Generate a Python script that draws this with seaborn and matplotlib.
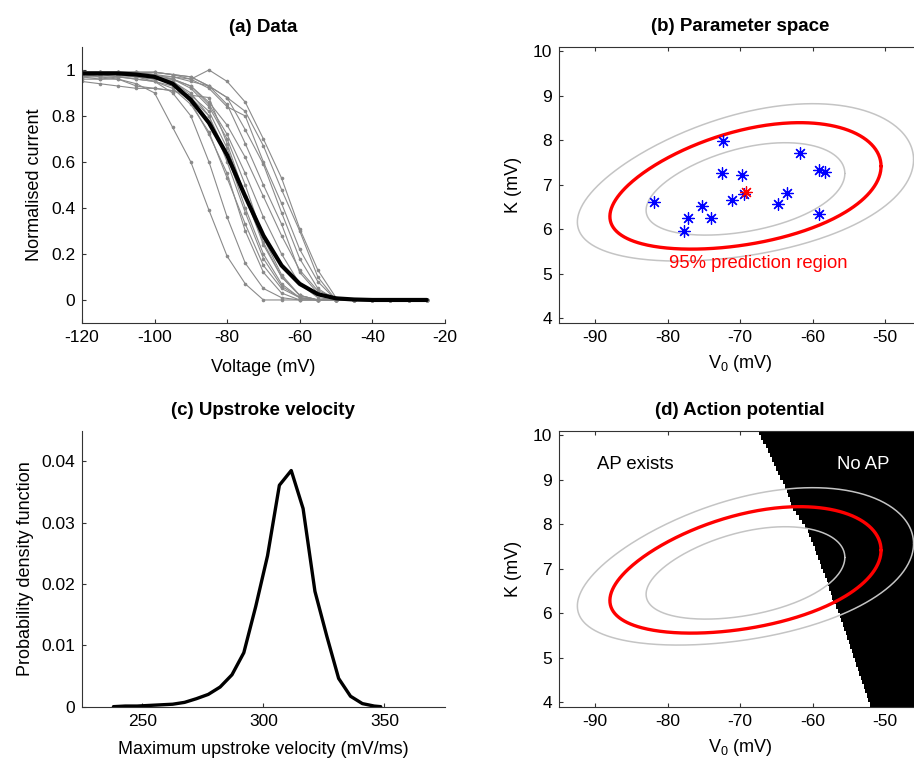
import numpy as np
import pandas as pd
import matplotlib
matplotlib.use("Agg")
import matplotlib.pyplot as plt
import seaborn as sns

# ---------------------------------------------------------------- data
# (a) normalised current recorded from each cell at the test voltages
voltages = [-120, -115, -110, -105, -100, -95, -90, -85, -80, -75,
            -70, -65, -60, -55, -50, -45, -40, -35, -30, -25]
cell_currents = [
    [0.97, 0.96, 0.96, 0.94, 0.90, 0.75, 0.60, 0.39, 0.19, 0.07, 0.00, 0, 0, 0, 0, 0, 0, 0, 0, 0],
    [0.98, 0.97, 0.97, 0.96, 0.95, 0.90, 0.80, 0.60, 0.36, 0.16, 0.05, 0.01, 0, 0, 0, 0, 0, 0, 0, 0],
    [0.96, 0.96, 0.97, 0.96, 0.95, 0.93, 0.86, 0.72, 0.55, 0.30, 0.12, 0.03, 0, 0, 0, 0, 0, 0, 0, 0],
    [0.99, 0.99, 0.98, 0.97, 0.95, 0.92, 0.85, 0.73, 0.53, 0.33, 0.15, 0.05, 0.01, 0, 0, 0, 0, 0, 0, 0],
    [0.97, 0.97, 0.96, 0.93, 0.92, 0.91, 0.88, 0.80, 0.60, 0.38, 0.18, 0.06, 0.01, 0, 0, 0, 0, 0, 0, 0],
    [0.99, 0.99, 0.99, 0.98, 0.97, 0.95, 0.90, 0.80, 0.63, 0.40, 0.20, 0.07, 0.01, 0, 0, 0, 0, 0, 0, 0],
    [0.98, 0.98, 0.98, 0.97, 0.96, 0.95, 0.89, 0.82, 0.66, 0.45, 0.24, 0.10, 0.02, 0, 0, 0, 0, 0, 0, 0],
    [0.99, 0.99, 0.98, 0.98, 0.97, 0.96, 0.92, 0.84, 0.70, 0.50, 0.27, 0.11, 0.02, 0, 0, 0, 0, 0, 0, 0],
    [0.95, 0.94, 0.93, 0.92, 0.92, 0.91, 0.89, 0.88, 0.68, 0.45, 0.25, 0.10, 0.02, 0, 0, 0, 0, 0, 0, 0],
    [0.98, 0.98, 0.97, 0.97, 0.96, 0.96, 0.93, 0.85, 0.72, 0.55, 0.36, 0.20, 0.07, 0.01, 0, 0, 0, 0, 0, 0],
    [0.97, 0.98, 0.99, 0.99, 0.99, 0.98, 0.96, 1.00, 0.95, 0.86, 0.70, 0.53, 0.31, 0.13, 0.01, 0, 0, 0, 0, 0],
    [0.99, 0.99, 0.99, 0.99, 0.99, 0.98, 0.97, 0.93, 0.88, 0.82, 0.67, 0.48, 0.30, 0.10, 0.00, 0, 0, 0, 0, 0],
    [0.98, 0.98, 0.98, 0.98, 0.97, 0.97, 0.96, 0.92, 0.84, 0.80, 0.60, 0.42, 0.22, 0.08, 0.00, 0, 0, 0, 0, 0],
    [0.99, 0.99, 0.99, 0.99, 0.99, 0.98, 0.97, 0.93, 0.88, 0.74, 0.59, 0.38, 0.18, 0.05, 0.00, 0, 0, 0, 0, 0],
    [0.98, 0.99, 0.99, 0.99, 0.98, 0.97, 0.95, 0.93, 0.85, 0.68, 0.50, 0.33, 0.12, 0.03, 0.00, 0, 0, 0, 0, 0],
    [0.99, 0.99, 0.99, 0.99, 0.98, 0.96, 0.93, 0.86, 0.76, 0.62, 0.45, 0.28, 0.13, 0.04, 0.01, 0, 0, 0, 0, 0],
]
mean_current = [0.985, 0.985, 0.985, 0.98, 0.97, 0.94, 0.87, 0.77, 0.63, 0.45,
                0.28, 0.15, 0.07, 0.025, 0.007, 0.002, 0.0, 0.0, 0.0, 0.0]
current_ticks = [0, 0.2, 0.4, 0.6, 0.8, 1]
current_tick_labels = ["0", "0.2", "0.4", "0.6", "0.8", "1"]
voltage_ticks = [-120, -100, -80, -60, -40, -20]

# (b) fitted Boltzmann parameters of each cell
cell_v0 = [-72.44, -61.77, -72.48, -69.77, -59.10, -58.32, -69.45, -63.60,
           -71.15, -64.85, -81.95, -75.29, -77.26, -74.05, -59.10, -77.72]
cell_k = [7.97, 7.71, 7.26, 7.21, 7.32, 7.28, 6.80, 6.82,
          6.66, 6.56, 6.60, 6.51, 6.24, 6.26, 6.34, 5.97]

# population model: V0 normal, log K normal, correlated
pop_v0_mean = -69.28
pop_v0_sd = 7.64
pop_k_median = 6.826
pop_logk_sd = 0.0844
pop_corr = 0.40
region_levels = [0.80, 0.95, 0.99]
v0_ticks = [-90, -80, -70, -60, -50]
k_ticks = [4, 5, 6, 7, 8, 9, 10]

# (c) distribution of maximum upstroke velocity
upstroke_velocity = [238.0, 242.9, 247.8, 252.7, 257.6, 262.5, 267.4, 272.3,
                     277.2, 282.1, 287.0, 291.9, 296.8, 301.7, 306.6, 311.5,
                     316.4, 321.3, 326.2, 331.1, 336.0, 340.9, 345.8, 348.5]
upstroke_pdf = [0.0000, 0.0001, 0.0001, 0.0002, 0.0003, 0.0004, 0.0007, 0.0013,
                0.0020, 0.0032, 0.0052, 0.0088, 0.0163, 0.0246, 0.0361, 0.0385,
                0.0323, 0.0188, 0.0115, 0.0046, 0.0017, 0.0005, 0.0001, 0.0000]
pdf_ticks = [0, 0.01, 0.02, 0.03, 0.04]
pdf_tick_labels = ["0", "0.01", "0.02", "0.03", "0.04"]
velocity_ticks = [250, 300, 350]

# (d) edge of the region where an action potential is produced
boundary_k = [3.90, 5.98, 6.28, 6.69, 7.85, 8.38, 8.79, 10.12]
boundary_v0 = [-52.0, -56.34, -57.26, -57.95, -60.7, -62.8, -63.7, -67.6]

# ---------------------------------------------------------------- style
sns.set_theme(style="ticks", rc={
    "axes.edgecolor": "#333333",
    "axes.linewidth": 0.8,
    "axes.labelcolor": "black",
    "text.color": "black",
    "xtick.direction": "in",
    "ytick.direction": "in",
    "xtick.major.size": 3,
    "ytick.major.size": 3,
    "xtick.major.width": 0.8,
    "ytick.major.width": 0.8,
    "xtick.color": "#333333",
    "ytick.color": "#333333",
    "xtick.labelcolor": "black",
    "ytick.labelcolor": "black",
    "xtick.labelsize": 12.5,
    "ytick.labelsize": 12.5,
    "axes.labelsize": 13,
    "axes.titlesize": 13.5,
    "axes.titleweight": "bold",
    "axes.titlepad": 11,
    "axes.unicode_minus": False,
})
plt.rcParams["font.family"] = ["Liberation Sans", "DejaVu Sans"]
plt.rcParams["mathtext.default"] = "regular"

GRAY = "#8a8a8a"
ELLIPSE_GRAY = "#c4c4c4"
RED = "#ff0000"

fig = plt.figure(figsize=(9.14, 7.61), dpi=100)
ax_a = fig.add_axes([0.0897, 0.5756, 0.397, 0.3627])
ax_b = fig.add_axes([0.6116, 0.5760, 0.3966, 0.3627])
ax_c = fig.add_axes([0.0897, 0.0714, 0.397, 0.3627])
ax_d = fig.add_axes([0.6116, 0.0714, 0.3966, 0.3627])


def prediction_curve(level, n=400):
    """Contour of the bivariate normal in (V0, log K) holding `level` mass."""
    r = np.sqrt(-2.0 * np.log(1.0 - level))
    t = np.linspace(0, 2 * np.pi, n)
    u, w = np.cos(t), np.sin(t)
    dv = r * pop_v0_sd * u
    dlogk = r * pop_logk_sd * (pop_corr * u + np.sqrt(1 - pop_corr ** 2) * w)
    return pop_v0_mean + dv, pop_k_median * np.exp(dlogk)


def draw_regions(ax):
    for level in region_levels:
        v, k = prediction_curve(level)
        if level == 0.95:
            ax.plot(v, k, color=RED, lw=2.4, zorder=4)
        else:
            ax.plot(v, k, color=ELLIPSE_GRAY, lw=1.1, zorder=3)


def param_axes(ax):
    ax.set_xlim(-95, -45)
    ax.set_ylim(3.9, 10.1)
    ax.set_xticks(v0_ticks)
    ax.set_yticks(k_ticks)
    ax.tick_params(top=True, right=True, pad=5)
    ax.set_xlabel("V$_0$ (mV)", labelpad=6)
    ax.set_ylabel("K (mV)", labelpad=8)


# ---------------------------------------------------------------- (a)
rows = [(i, v, c) for i, cur in enumerate(cell_currents)
        for v, c in zip(voltages, cur)]
df_cells = pd.DataFrame(rows, columns=["cell", "voltage", "current"])
sns.lineplot(data=df_cells, x="voltage", y="current", units="cell",
             estimator=None, color=GRAY, lw=0.8, marker="o", markersize=2.6,
             markeredgewidth=0, ax=ax_a, legend=False)
sns.lineplot(x=voltages, y=mean_current, color="black", lw=3.0, ax=ax_a)
ax_a.set_xlim(-120, -20)
ax_a.set_ylim(-0.1, 1.1)
ax_a.set_xticks(voltage_ticks)
ax_a.set_yticks(current_ticks)
ax_a.set_yticklabels(current_tick_labels)
ax_a.set_xlabel("Voltage (mV)", labelpad=10)
ax_a.set_ylabel("Normalised current", labelpad=6)
ax_a.set_title("(a) Data")
ax_a.tick_params(pad=5)
sns.despine(ax=ax_a)

# ---------------------------------------------------------------- (b)
draw_regions(ax_b)
sns.scatterplot(x=cell_v0, y=cell_k, marker=(8, 2, 0), color="blue",
                s=70, linewidth=0.9, ax=ax_b, zorder=5)
sns.scatterplot(x=[np.mean(cell_v0)], y=[np.mean(cell_k)], marker=(8, 2, 0),
                color=RED, s=70, linewidth=0.9, ax=ax_b, zorder=6)
ax_b.text(-67.5, 5.22, "95% prediction region", color=RED, fontsize=13.3,
          ha="center", va="center")
param_axes(ax_b)
ax_b.set_title("(b) Parameter space")

# ---------------------------------------------------------------- (c)
sns.lineplot(x=upstroke_velocity, y=upstroke_pdf, color="black", lw=2.4,
             ax=ax_c)
ax_c.set_xlim(225, 375)
ax_c.set_ylim(0, 0.045)
ax_c.set_xticks(velocity_ticks)
ax_c.set_yticks(pdf_ticks)
ax_c.set_yticklabels(pdf_tick_labels)
ax_c.set_xlabel("Maximum upstroke velocity (mV/ms)", labelpad=9)
ax_c.set_ylabel("Probability density function", labelpad=5)
ax_c.set_title("(c) Upstroke velocity")
ax_c.tick_params(pad=5)
sns.despine(ax=ax_c)

# ---------------------------------------------------------------- (d)
k_rows = np.arange(3.85, 10.2, 0.1)
v_edge = np.interp(k_rows, boundary_k, boundary_v0)
ax_d.fill_betweenx(k_rows, v_edge, -40, step="mid", color="black", lw=0,
                   zorder=1)
draw_regions(ax_d)
ax_d.text(-84.5, 9.33, "AP exists", color="black", fontsize=13.3,
          ha="center", va="center")
ax_d.text(-53.0, 9.33, "No AP", color="white", fontsize=13.3,
          ha="center", va="center")
param_axes(ax_d)
ax_d.set_title("(d) Action potential")

fig.savefig("out.png", dpi=100)
